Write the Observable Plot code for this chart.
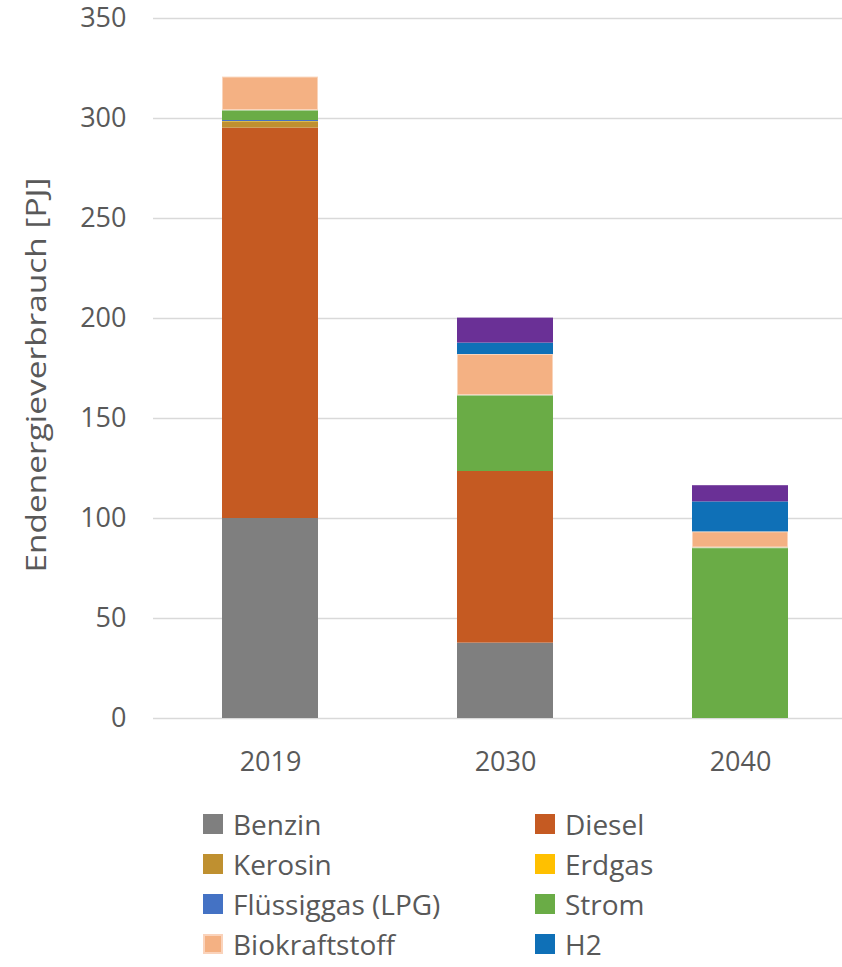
<!DOCTYPE html>
<html>
<head>
<meta charset="utf-8">
<script src="https://cdn.jsdelivr.net/npm/d3@7"></script>
<script src="https://cdn.jsdelivr.net/npm/@observablehq/plot@0.6"></script>
<style>
  html, body { margin: 0; padding: 0; background: #fff; overflow: hidden; }
  #chart svg { display: block; }
  #legend {
    display: grid;
    grid-template-columns: 332px 332px;
    grid-auto-rows: 40px;
    padding-left: 203px;
    padding-top: 4px;
    font-family: "Open Sans", sans-serif;
    font-size: 28px;
    color: #595959;
  }
  .item { display: flex; align-items: center; white-space: nowrap; }
  .item span { line-height: 1; }
  .sw { width: 20px; height: 20px; margin-right: 10px; flex: none; box-sizing: border-box; }
</style>
</head>
<body>
<div id="chart"></div>
<div id="legend"></div>
<script>
const years = ["2019", "2030", "2040"];
const carriers = ["Benzin", "Diesel", "Kerosin", "Erdgas", "Flüssiggas (LPG)", "Strom", "Biokraftstoff", "H2", "E-Fuels"];
const carrierColors = ["#7f7f7f", "#c55a22", "#bf9030", "#ffc000", "#4472c4", "#6aac46", "#f4b183", "#0f70b7", "#6a3096"];
const values2019 = [100, 195.2, 2.8, 0.4, 0.6, 5, 16.7, 0, 0];
const values2030 = [37.7, 85.8, 0, 0, 0, 38, 20.5, 5.7, 12.5];
const values2040 = [0, 0, 0, 0, 0, 85.3, 8, 15, 8.1];
const yTicks = [0, 50, 100, 150, 200, 250, 300, 350];
const yLabel = "Endenergieverbrauch [PJ]";
// legend entries visible in the reference (the last one is cropped off there)
const legendCarriers = carriers.slice(0, 8);

const seriesByYear = [values2019, values2030, values2040];
const rows = [];
years.forEach((yr, i) => {
  carriers.forEach((c, j) => {
    rows.push({year: yr, carrier: c, value: seriesByYear[i][j]});
  });
});

const plot = Plot.plot({
  width: 842,
  height: 800,
  marginLeft: 153,
  marginRight: 0,
  marginTop: 18,
  marginBottom: 82,
  style: {fontFamily: "Open Sans, sans-serif", fontSize: "27px", color: "#595959", background: "white", overflow: "visible"},
  x: {domain: years, range: [152.5, 857.5], paddingInner: 0.59, paddingOuter: 0.295, label: null},
  y: {domain: [0, 350], label: null},
  color: {domain: carriers, range: carrierColors},
  opacity: {type: "identity"},
  marks: [
    Plot.gridY(yTicks, {stroke: "#d9d9d9", strokeOpacity: 1, strokeWidth: 1.5}),
    Plot.barY(rows, {
      x: "year", y: "value", fill: "carrier", order: carriers,
      stroke: "white",
      strokeWidth: 2,
      strokeOpacity: d => d.carrier === "Biokraftstoff" ? 0.45 : 0
    }),
    Plot.axisY(yTicks, {tickSize: 0, tickPadding: 27, fontSize: 27, fill: "#595959", label: null}),
    Plot.axisX({tickSize: 0, tickPadding: 33, fontSize: 27, fill: "#595959", label: null})
  ]
});
document.getElementById("chart").appendChild(plot);

d3.select(plot).append("text")
  .attr("transform", "translate(35,375) rotate(-90)")
  .attr("text-anchor", "middle")
  .attr("dominant-baseline", "central")
  .attr("font-family", "Open Sans, sans-serif")
  .attr("font-size", 27)
  .attr("fill", "#595959")
  .attr("textLength", 395)
  .attr("lengthAdjust", "spacingAndGlyphs")
  .text(yLabel);

const legend = d3.select("#legend");
legendCarriers.forEach((c) => {
  const i = carriers.indexOf(c);
  const it = legend.append("div").attr("class", "item");
  it.append("div").attr("class", "sw").style("background", carrierColors[i])
    .style("border", c === "Biokraftstoff" ? "2px solid #fad3bb" : "none");
  it.append("span").text(c);
});
</script>
</body>
</html>
